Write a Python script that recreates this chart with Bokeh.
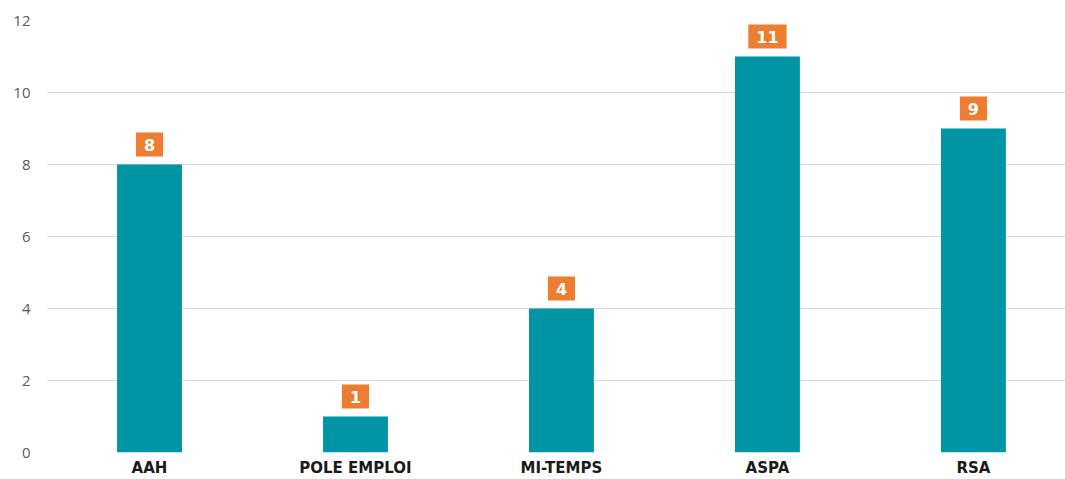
from bokeh.plotting import figure
from bokeh.models import Range1d, FixedTicker, ColumnDataSource
from bokeh.core.properties import value
from bokeh.embed import file_html
from bokeh.resources import INLINE

categories = ["AAH", "POLE EMPLOI", "MI-TEMPS", "ASPA", "RSA"]
counts = [8, 1, 4, 11, 9]
y_ticks = [0, 2, 4, 6, 8, 10, 12]

xs = list(range(len(categories)))
src = ColumnDataSource(dict(x=xs, top=counts, lab=[str(c) for c in counts]))

p = figure(width=1065, height=479, output_backend="svg", toolbar_location=None,
           x_range=Range1d(-0.5, 4.447), y_range=Range1d(0, 12),
           min_border_left=46, min_border_right=0, min_border_top=20, min_border_bottom=27)
p.outline_line_color = None
p.background_fill_color = "white"

p.vbar(x="x", top="top", width=0.315, bottom=0, source=src,
       fill_color="#0095A4", line_color=None)

p.text(x="x", y="top", text="lab", source=src, y_offset=-20,
       text_align="center", text_baseline="middle",
       text_color="white", text_font=value("DejaVu Sans"), text_font_style="bold",
       text_font_size="16px",
       background_fill_color="#ED7D31", padding=(8, 6))

p.xgrid.grid_line_color = None
p.ygrid.grid_line_color = "#D9D9D9"
p.ygrid.grid_line_width = 1
p.ygrid.ticker = FixedTicker(ticks=y_ticks)

p.yaxis.ticker = FixedTicker(ticks=y_ticks)
p.yaxis.axis_line_color = None
p.yaxis.major_tick_line_color = None
p.yaxis.minor_tick_line_color = None
p.yaxis.major_tick_out = 0
p.yaxis.major_tick_in = 0
p.yaxis.major_label_text_color = "#595959"
p.yaxis.major_label_text_font = "Open Sans"
p.yaxis.major_label_text_font_size = "15px"
p.yaxis.major_label_standoff = 16

p.xaxis.ticker = FixedTicker(ticks=xs)
p.xaxis.major_label_overrides = {i: c for i, c in enumerate(categories)}
p.xaxis.axis_line_color = None
p.xaxis.major_tick_line_color = None
p.xaxis.minor_tick_line_color = None
p.xaxis.major_tick_out = 0
p.xaxis.major_tick_in = 0
p.xaxis.major_label_text_color = "#1A1A1A"
p.xaxis.major_label_text_font = "DejaVu Sans"
p.xaxis.major_label_text_font_style = "bold"
p.xaxis.major_label_text_font_size = "15px"
p.xaxis.major_label_standoff = 6

open("out.html", "w").write(file_html(p, INLINE))
